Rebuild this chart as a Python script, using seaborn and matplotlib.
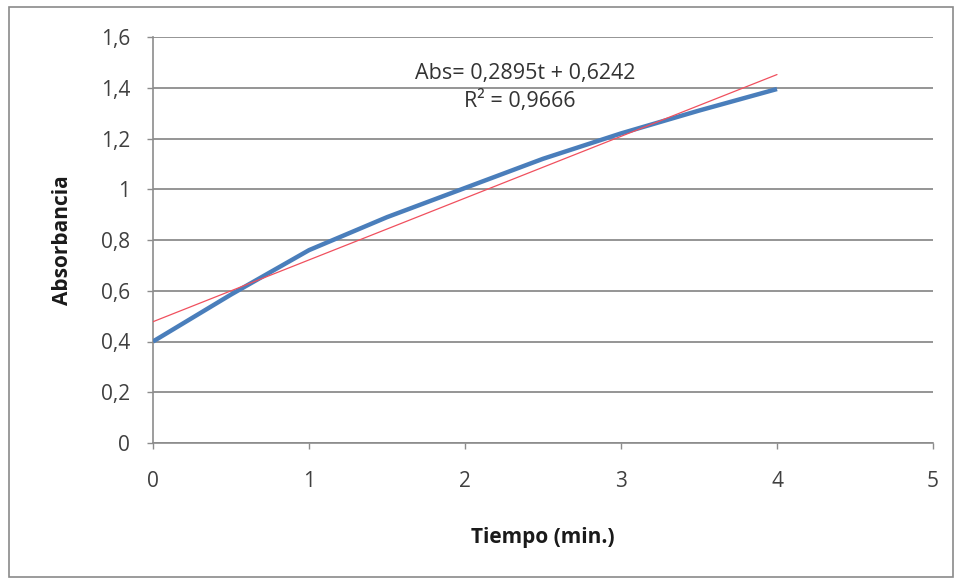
import matplotlib
matplotlib.use("Agg")
import matplotlib.pyplot as plt
from matplotlib.patches import Rectangle
import seaborn as sns
import pandas as pd

# Absorbance readings over time
tiempo = [0, 0.5, 1, 1.5, 2, 2.5, 3, 3.5, 4]
absorbancia = [0.40, 0.585, 0.76, 0.89, 1.005, 1.12, 1.22, 1.31, 1.395]

x_ticks = [0, 1, 2, 3, 4, 5]
x_tick_labels = ["0", "1", "2", "3", "4", "5"]
y_ticks = [0, 0.2, 0.4, 0.6, 0.8, 1.0, 1.2, 1.4, 1.6]
y_tick_labels = ["0", "0,2", "0,4", "0,6", "0,8", "1", "1,2", "1,4", "1,6"]

ecuacion = "Abs= 0,2895t + 0,6242"
r_cuadrado = "R² = 0,9666"

df = pd.DataFrame({"Tiempo": tiempo, "Absorbancia": absorbancia})

sns.set_theme(style="white")
plt.rcParams["font.family"] = ["Open Sans", "DejaVu Sans"]

W, H = 960, 580
fig = plt.figure(figsize=(W / 100, H / 100), dpi=100)
fig.patch.set_facecolor("white")

left, right, top, bottom = 153, 933, 37, 443
ax = fig.add_axes([left / W, 1 - bottom / H, (right - left) / W, (bottom - top) / H])

grid_col = "#8c8c8c"

# measured curve
sns.lineplot(data=df, x="Tiempo", y="Absorbancia", ax=ax, color="#4a7ebb",
             lw=3.2, zorder=3, solid_capstyle="butt", solid_joinstyle="round")
# linear trendline
sns.regplot(data=df, x="Tiempo", y="Absorbancia", ax=ax, scatter=False,
            ci=None, truncate=True,
            line_kws=dict(color="#f0505e", lw=0.9, zorder=4))

ax.set_xlim(0, 5)
ax.set_ylim(0, 1.6)
ax.set_xticks(x_ticks)
ax.set_xticklabels(x_tick_labels)
ax.set_yticks(y_ticks)
ax.set_yticklabels(y_tick_labels)

ax.yaxis.grid(True, color=grid_col, lw=1.3)
ax.xaxis.grid(False)
ax.set_axisbelow(True)

for s in ["top", "right"]:
    ax.spines[s].set_visible(False)
for s in ["left", "bottom"]:
    ax.spines[s].set_color(grid_col)
    ax.spines[s].set_linewidth(1.2)

ax.tick_params(axis="both", which="major", direction="out", length=4.3,
               width=1.0, color=grid_col, labelsize=15, labelcolor="#404040",
               bottom=True, left=True)
ax.tick_params(axis="y", pad=12)
ax.tick_params(axis="x", pad=16)

ax.set_xlabel("Tiempo (min.)", fontsize=15, fontweight="bold",
              color="#1a1a1a", va="center")
ax.xaxis.set_label_coords(0.5, -(537 - bottom) / (bottom - top))
ax.set_ylabel("Absorbancia", fontsize=15, fontweight="bold",
              color="#1a1a1a", va="center")
ax.yaxis.set_label_coords(-(left - 62) / (right - left), 0.5)

ax.text((525 - left) / (right - left), (bottom - 73) / (bottom - top), ecuacion,
        transform=ax.transAxes, ha="center", va="center", fontsize=15.5,
        color="#333333")
ax.text((520 - left) / (right - left), (bottom - 101) / (bottom - top), r_cuadrado,
        transform=ax.transAxes, ha="center", va="center", fontsize=15.5,
        color="#333333")

# outer chart border
fig.patches.append(Rectangle((9 / W, 3 / H), 944 / W, 570 / H,
                             transform=fig.transFigure, fill=False,
                             edgecolor="#8a8a8a", lw=1.2))

fig.savefig("out.png", dpi=100)
